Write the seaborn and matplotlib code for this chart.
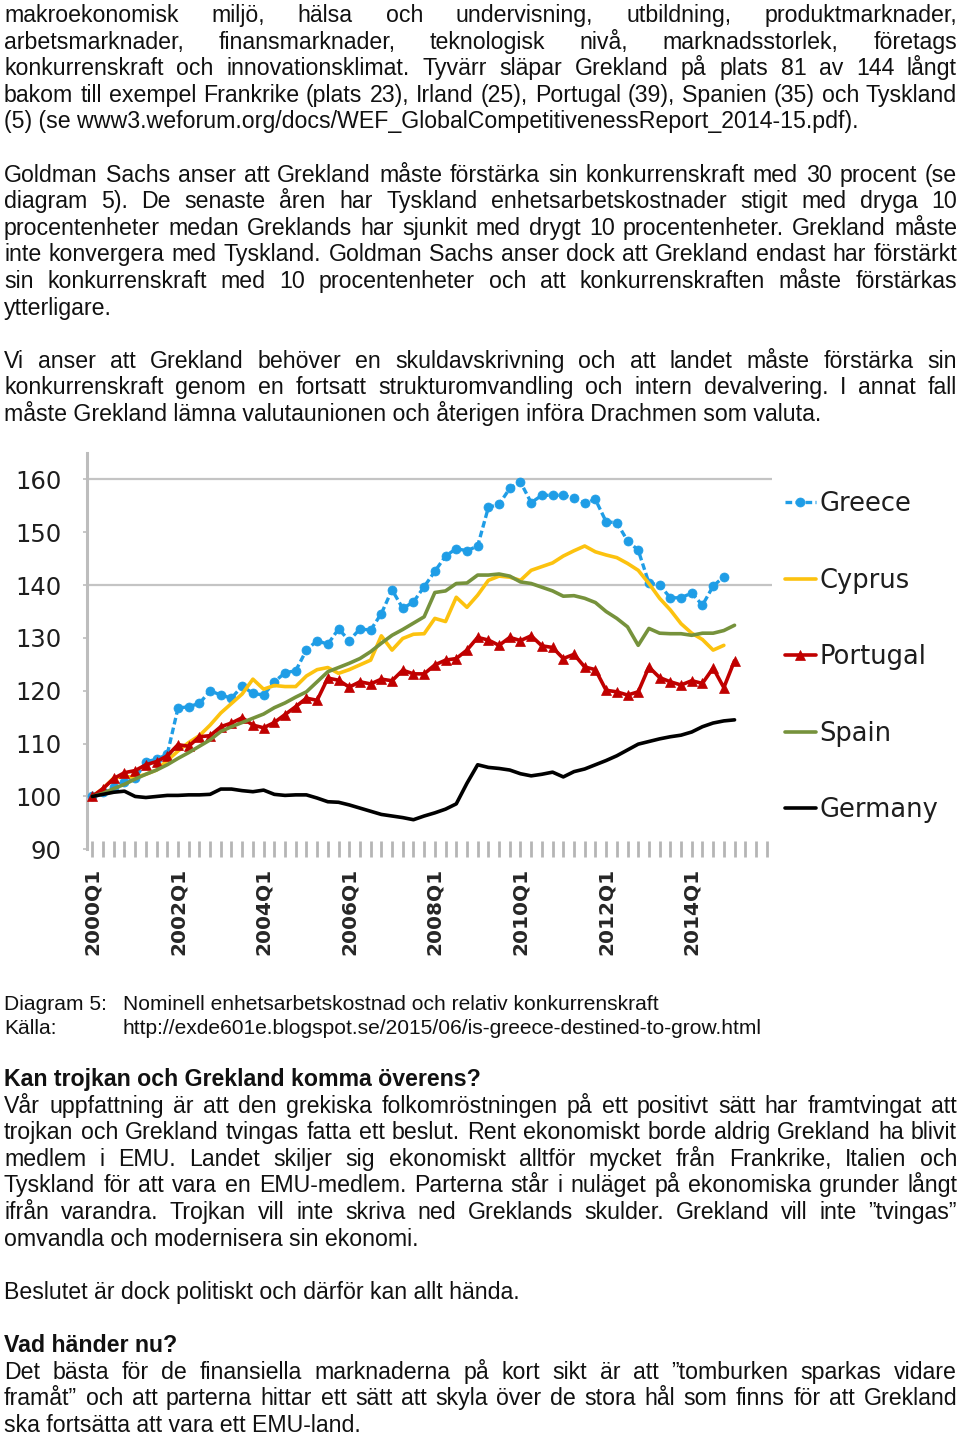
import matplotlib
matplotlib.use("Agg")
import matplotlib.pyplot as plt
import seaborn as sns
import pandas as pd

# ---------------- data ----------------
years = list(range(2000, 2016))
quarters = [f"{y}Q{q}" for y in years for q in range(1, 5)]   # category axis 2000Q1..2015Q4
tick_labels = ["2000Q1", "2002Q1", "2004Q1", "2006Q1", "2008Q1", "2010Q1", "2012Q1", "2014Q1"]
y_ticks = [90, 100, 110, 120, 130, 140, 150, 160]

greece = [100.0, 100.8, 101.8, 102.8, 103.4, 106.6, 107.0, 108.0, 116.7, 117.0,
          117.6, 120.0, 119.2, 118.6, 120.9, 119.5, 119.2, 121.7, 123.4, 123.8,
          127.7, 129.5, 128.8, 131.7, 129.5, 131.7, 131.5, 134.6, 139.1, 135.6,
          136.8, 139.7, 142.6, 145.5, 146.9, 146.5, 147.4, 154.7, 155.3, 158.3,
          159.5, 155.6, 157.0, 157.0, 157.0, 156.4, 155.5, 156.2, 152.0, 151.8,
          148.4, 146.6, 140.4, 140.0, 137.6, 137.6, 138.5, 136.2, 139.8, 141.6]
cyprus = [100.0, 101.5, 103.5, 103.8, 103.6, 104.2, 105.0, 106.8, 108.6, 110.2,
          111.5, 113.5, 115.8, 117.6, 119.4, 122.2, 120.3, 121.0, 120.8, 120.8,
          122.8, 124.0, 124.4, 123.3, 124.0, 124.9, 125.8, 130.4, 127.7, 129.9,
          130.7, 130.8, 133.7, 133.1, 137.7, 135.8, 138.1, 140.9, 141.7, 141.5,
          140.9, 142.8, 143.5, 144.2, 145.5, 146.5, 147.4, 146.3, 145.7, 145.2,
          144.1, 142.8, 140.3, 137.5, 135.3, 132.7, 130.9, 129.7, 127.7, 128.6]
portugal = [100.0, 101.5, 103.4, 104.5, 104.9, 106.0, 106.6, 107.7, 109.8, 109.5,
            111.3, 111.5, 113.2, 113.9, 114.9, 113.5, 113.0, 114.0, 115.5, 117.0,
            118.6, 118.2, 122.4, 122.0, 120.7, 121.7, 121.3, 122.2, 121.9, 123.9,
            123.2, 123.2, 124.9, 125.8, 126.1, 127.7, 130.1, 129.6, 128.6, 130.1,
            129.5, 130.4, 128.5, 128.2, 126.1, 126.9, 124.5, 124.0, 120.1, 119.8,
            119.2, 119.8, 124.5, 122.5, 121.7, 121.1, 121.9, 121.4, 124.3, 120.6,
            125.7]
spain = [100.0, 100.6, 101.5, 102.3, 103.3, 104.2, 105.0, 106.0, 107.2, 108.3,
         109.5, 110.7, 112.3, 113.2, 114.0, 114.8, 115.6, 116.8, 117.7, 118.8,
         119.8, 121.7, 123.6, 124.4, 125.2, 126.1, 127.4, 129.0, 130.5, 131.6,
         132.8, 134.0, 138.6, 138.9, 140.3, 140.4, 141.9, 141.9, 142.1, 141.7,
         140.6, 140.3, 139.6, 138.9, 137.9, 138.0, 137.5, 136.7, 135.0, 133.7,
         132.1, 128.6, 131.8, 130.9, 130.8, 130.8, 130.5, 130.9, 130.9, 131.4,
         132.4]
germany = [100.0, 100.4, 100.8, 101.0, 100.0, 99.8, 100.0, 100.2, 100.2, 100.3,
           100.3, 100.4, 101.4, 101.4, 101.1, 100.9, 101.2, 100.4, 100.2, 100.3,
           100.3, 99.7, 99.0, 98.9, 98.4, 97.8, 97.2, 96.6, 96.3, 96.0,
           95.6, 96.3, 96.9, 97.6, 98.6, 102.5, 106.0, 105.5, 105.3, 105.0,
           104.3, 103.9, 104.2, 104.6, 103.7, 104.7, 105.2, 106.0, 106.8, 107.7,
           108.8, 109.9, 110.4, 110.9, 111.3, 111.6, 112.2, 113.2, 113.9, 114.3,
           114.5]

series_names = ["Greece", "Cyprus", "Portugal", "Spain", "Germany"]
series_values = [greece, cyprus, portugal, spain, germany]

frames = []
for name, vals in zip(series_names, series_values):
    frames.append(pd.DataFrame({"country": name,
                                "quarter": quarters[:len(vals)],
                                "pos": [quarters.index(q) for q in quarters[:len(vals)]],
                                "value": vals}))
df = pd.concat(frames, ignore_index=True)

styles = {
    "Greece":   dict(color="#1f9de6", marker="o", markersize=6.5, linestyle=(0, (2.0, 1.0)), linewidth=2.4),
    "Cyprus":   dict(color="#fcc20f", marker=None, linestyle="-", linewidth=2.6),
    "Portugal": dict(color="#c00000", marker="^", markersize=6.5, linestyle="-", linewidth=2.6),
    "Spain":    dict(color="#76923c", marker=None, linestyle="-", linewidth=2.6),
    "Germany":  dict(color="#000000", marker=None, linestyle="-", linewidth=2.6),
}

# ---------------- text ----------------
para1 = ["makroekonomisk miljö, hälsa och undervisning, utbildning, produktmarknader,",
         "arbetsmarknader, finansmarknader, teknologisk nivå, marknadsstorlek, företags",
         "konkurrenskraft och innovationsklimat. Tyvärr släpar Grekland på plats 81 av 144 långt",
         "bakom till exempel Frankrike (plats 23), Irland (25), Portugal (39), Spanien (35) och Tyskland",
         "(5) (se www3.weforum.org/docs/WEF_GlobalCompetitivenessReport_2014-15.pdf)."]
para2 = ["Goldman Sachs anser att Grekland måste förstärka sin konkurrenskraft med 30 procent (se",
         "diagram 5). De senaste åren har Tyskland enhetsarbetskostnader stigit med dryga 10",
         "procentenheter medan Greklands har sjunkit med drygt 10 procentenheter. Grekland måste",
         "inte konvergera med Tyskland. Goldman Sachs anser dock att Grekland endast har förstärkt",
         "sin konkurrenskraft med 10 procentenheter och att konkurrenskraften måste förstärkas",
         "ytterligare."]
para3 = ["Vi anser att Grekland behöver en skuldavskrivning och att landet måste förstärka sin",
         "konkurrenskraft genom en fortsatt strukturomvandling och intern devalvering. I annat fall",
         "måste Grekland lämna valutaunionen och återigen införa Drachmen som valuta."]
caption_keys = ["Diagram 5:", "Källa:"]
caption_vals = ["Nominell enhetsarbetskostnad och relativ konkurrenskraft",
                "http://exde601e.blogspot.se/2015/06/is-greece-destined-to-grow.html"]
head1 = "Kan trojkan och Grekland komma överens?"
para4 = ["Vår uppfattning är att den grekiska folkomröstningen på ett positivt sätt har framtvingat att",
         "trojkan och Grekland tvingas fatta ett beslut. Rent ekonomiskt borde aldrig Grekland ha blivit",
         "medlem i EMU. Landet skiljer sig ekonomiskt alltför mycket från Frankrike, Italien och",
         "Tyskland för att vara en EMU-medlem. Parterna står i nuläget på ekonomiska grunder långt",
         "ifrån varandra. Trojkan vill inte skriva ned Greklands skulder. Grekland vill inte ”tvingas”",
         "omvandla och modernisera sin ekonomi."]
para5 = ["Beslutet är dock politiskt och därför kan allt hända."]
head2 = "Vad händer nu?"
para6 = ["Det bästa för de finansiella marknaderna på kort sikt är att ”tomburken sparkas vidare",
         "framåt” och att parterna hittar ett sätt att skyla över de stora hål som finns för att Grekland",
         "ska fortsätta att vara ett EMU-land."]

# ---------------- figure ----------------
sns.set_style("white")
W, H = 960, 1434
fig = plt.figure(figsize=(W / 100, H / 100), dpi=100)
fig.patch.set_facecolor("white")
BODY = ["Liberation Sans", "DejaVu Sans"]
CHART = ["DejaVu Sans"]
TXT = "#111111"


def fx(px):
    return px / W


def fy(py):
    return 1 - py / H


renderer = fig.canvas.get_renderer()


def text_width(s, size, weight="normal"):
    t = fig.text(0, 0, s, fontsize=size, fontweight=weight, family=BODY)
    w = t.get_window_extent(renderer).width
    t.remove()
    return w


body_size = 10 * 821 / text_width(para3[-1], 10)
cap_size = 10 * 537 / text_width(caption_vals[0], 10)


def put_line(s, yb, size, weight="normal", x0=4, x1=957, justify=True):
    if not justify:
        fig.text(fx(x0), fy(yb), s, fontsize=size, fontweight=weight, family=BODY,
                 color=TXT, ha="left", va="baseline")
        return
    words = s.split(" ")
    widths = [text_width(w, size, weight) for w in words]
    gap = (x1 - x0 - sum(widths)) / (len(words) - 1)
    x = x0
    for w, wd in zip(words, widths):
        fig.text(fx(x), fy(yb), w, fontsize=size, fontweight=weight, family=BODY,
                 color=TXT, ha="left", va="baseline")
        x += wd + gap


PITCH = 26.6
BASE0 = 22


def put_par(lines, n0, weight="normal"):
    for k, s in enumerate(lines):
        put_line(s, BASE0 + PITCH * (n0 + k), body_size, weight, justify=(k < len(lines) - 1))


put_par(para1, 0)
put_par(para2, 6)
put_par(para3, 13)
for k, (a, b) in enumerate(zip(caption_keys, caption_vals)):
    yb = 1009.5 + 25 * k
    put_line(a, yb, cap_size, justify=False)
    put_line(b, yb, cap_size, x0=123, justify=False)
put_par([head1], 40, weight="bold")
put_par(para4, 41)
put_par(para5, 48)
put_par([head2], 50, weight="bold")
put_par(para6, 51)

# ---------------- chart ----------------
ax_l, ax_r, ax_t, ax_b = 87, 772, 453, 849.3
ax = fig.add_axes([fx(ax_l), fy(ax_b), (ax_r - ax_l) / W, (ax_b - ax_t) / H])
ax.set_facecolor("white")

for name in series_names:
    st = dict(styles[name])
    col = st["color"]
    sub = df[df["country"] == name]
    kw = dict(color=col, linestyle=st["linestyle"], linewidth=st["linewidth"])
    if st.get("marker"):
        kw.update(marker=st["marker"], markersize=st["markersize"],
                  markeredgecolor=col, markerfacecolor=col, markeredgewidth=0.5)
    sns.lineplot(data=sub, x="pos", y="value", ax=ax, label=name, errorbar=None,
                 sort=False, zorder=3, **kw)

for g in (140, 160):
    ax.axhline(g, color="#c4c4c4", linewidth=1.6, zorder=1)

ax.set_xlim(-0.5, len(quarters) - 0.5)
ax.set_ylim(90, 165)
ax.set_xlabel("")
ax.set_ylabel("")
ax.set_xticks(range(len(quarters)))
ax.set_xticklabels([q if q in tick_labels else "" for q in quarters],
                   rotation=90, fontsize=14.5, fontweight="bold", family=CHART, color="#262626")
ax.set_yticks(y_ticks)
ax.set_yticklabels([str(v) for v in y_ticks], fontsize=17.5, family=CHART, color="#1e1e1e")
ax.tick_params(axis="x", bottom=True, direction="inout", length=11, width=2.0,
               color="#b5b5b5", pad=8)
ax.tick_params(axis="y", left=True, direction="out", length=3, width=1.2,
               color="#bdbdbd", pad=15)
for side in ("top", "right", "bottom"):
    ax.spines[side].set_visible(False)
ax.spines["left"].set_color("#bdbdbd")
ax.spines["left"].set_linewidth(2.2)
ax.grid(False)

handles, labels = ax.get_legend_handles_labels()
leg = ax.legend(handles, labels, loc="upper left",
                bbox_to_anchor=(fx(785), fy(491)), bbox_transform=fig.transFigure,
                frameon=False, borderpad=0, borderaxespad=0,
                handlelength=1.2, handletextpad=0.15, labelspacing=1.97,
                prop={"family": CHART, "size": 18.5})
for t in leg.get_texts():
    t.set_color("#1e1e1e")

fig.savefig("out.png", dpi=100, facecolor="white")
